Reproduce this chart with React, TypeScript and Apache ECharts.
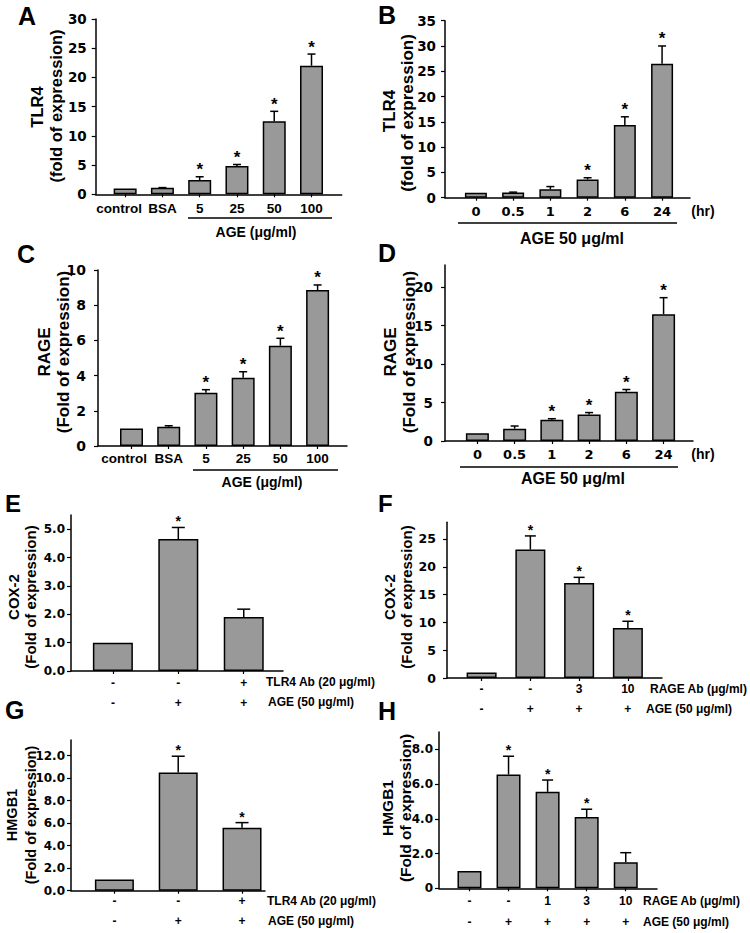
import React, { useEffect, useRef } from "react";
import * as echarts from "echarts";

// ---------- DATA ----------
// A: TLR4 vs AGE dose
const doseCats = ["control", "BSA", "5", "25", "50", "100"];
const tlr4Dose = [1.0, 1.1, 2.45, 4.85, 12.5, 22.0];
const tlr4DoseSem = [0, 0.05, 0.55, 0.25, 1.7, 2.0];
const tlr4DoseSig = [0, 0, 1, 1, 1, 1];
const tlr4DoseTicks = [0, 5, 10, 15, 20, 25, 30];

// B: TLR4 vs time
const timeCats = ["0", "0.5", "1", "2", "6", "24"];
const tlr4Time = [1.0, 1.05, 1.65, 3.6, 14.4, 26.5];
const tlr4TimeSem = [0, 0.05, 0.55, 0.35, 1.6, 3.5];
const tlr4TimeSig = [0, 0, 0, 1, 1, 1];
const tlr4TimeTicks = [0, 5, 10, 15, 20, 25, 30, 35];

// C: RAGE vs AGE dose
const rageDose = [1.0, 1.1, 3.03, 3.88, 5.7, 8.86];
const rageDoseSem = [0, 0.05, 0.17, 0.34, 0.42, 0.29];
const rageDoseSig = [0, 0, 1, 1, 1, 1];
const rageDoseTicks = [0, 2, 4, 6, 8, 10];

// D: RAGE vs time
const rageTime = [1.0, 1.6, 2.75, 3.45, 6.4, 16.5];
const rageTimeSem = [0, 0.35, 0.15, 0.25, 0.3, 2.15];
const rageTimeSig = [0, 0, 1, 1, 1, 1];
const rageTimeTicks = [0, 5, 10, 15, 20];

// E: COX-2 with TLR4 Ab
const tlr4AbRow = ["-", "-", "+"];
const ageRow3 = ["-", "+", "+"];
const cox2Tlr4 = [1.0, 4.65, 1.9];
const cox2Tlr4Sem = [0, 0.41, 0.28];
const cox2Tlr4Sig = [0, 1, 0];
const cox2Tlr4Ticks = [0, 1, 2, 3, 4, 5];

// F: COX-2 with RAGE Ab
const rageAbRow4 = ["-", "-", "3", "10"];
const ageRow4 = ["-", "+", "+", "+"];
const cox2Rage = [1.0, 23.1, 17.1, 9.0];
const cox2RageSem = [0, 2.45, 1.0, 1.2];
const cox2RageSig = [0, 1, 1, 1];
const cox2RageTicks = [0, 5, 10, 15, 20, 25];

// G: HMGB1 with TLR4 Ab
const hmgb1Tlr4 = [1.0, 10.5, 5.6];
const hmgb1Tlr4Sem = [0, 1.45, 0.45];
const hmgb1Tlr4Sig = [0, 1, 1];
const hmgb1Tlr4Ticks = [0, 2, 4, 6, 8, 10, 12];

// H: HMGB1 with RAGE Ab
const rageAbRow5 = ["-", "-", "1", "3", "10"];
const ageRow5 = ["-", "+", "+", "+", "+"];
const hmgb1Rage = [1.0, 6.55, 5.55, 4.1, 1.5];
const hmgb1RageSem = [0, 1.05, 0.68, 0.45, 0.55];
const hmgb1RageSig = [0, 1, 1, 1, 0];
const hmgb1RageTicks = [0, 2, 4, 6, 8];

// ---------- LAYOUT ----------
const FONT = "'Liberation Sans', Arial, Helvetica, sans-serif";
const WIDE = "'DejaVu Sans', Verdana, sans-serif";
const BAR_COLOR = "#999999";

const plain = (v: number) => String(v);
const oneDec = (v: number) => v.toFixed(1);
const oneDecZero = (v: number) => (v === 0 ? "0" : v.toFixed(1));
const twoRows = (a: string[], b: string[]) => a.map((s, i) => s + "\n" + b[i]);

type Panel = {
  vals: number[]; sem: number[]; sig: number[]; ticks: number[];
  xLabels: string[]; yFmt: (v: number) => string;
  left: number; top: number; width: number; height: number;
  xMin: number; xMax: number; yMax: number;
  barWidth: number; cap: number;
  yFont: number; yMargin: number;
  xFont: number; xFamily: string; xMargin: number; xLineHeight: number;
  firstShift: number; // label of first category sits a little left of its bar (axis units)
  starFont: number; starOff: number;
};

const panels: Panel[] = [
  { vals: tlr4Dose, sem: tlr4DoseSem, sig: tlr4DoseSig, ticks: tlr4DoseTicks, xLabels: doseCats, yFmt: plain,
    left: 95.7, top: 19, width: 246, height: 175.3, xMin: -0.79, xMax: 5.81, yMax: 30,
    barWidth: 23, cap: 8, yFont: 13.5, yMargin: 9, xFont: 13.5, xFamily: FONT, xMargin: 6, xLineHeight: 16, firstShift: 0.16,
    starFont: 17, starOff: 7 },
  { vals: tlr4Time, sem: tlr4TimeSem, sig: tlr4TimeSig, ticks: tlr4TimeTicks, xLabels: timeCats, yFmt: plain,
    left: 445, top: 20.7, width: 245, height: 177, xMin: -0.83, xMax: 5.75, yMax: 35,
    barWidth: 22, cap: 8, yFont: 13.5, yMargin: 9, xFont: 13, xFamily: WIDE, xMargin: 5, xLineHeight: 17, firstShift: 0,
    starFont: 17, starOff: 7 },
  { vals: rageDose, sem: rageDoseSem, sig: rageDoseSig, ticks: rageDoseTicks, xLabels: doseCats, yFmt: plain,
    left: 98, top: 270, width: 249, height: 176, xMin: -0.9, xMax: 5.79, yMax: 10,
    barWidth: 23, cap: 8, yFont: 14, yMargin: 12, xFont: 13.5, xFamily: FONT, xMargin: 4, xLineHeight: 16, firstShift: 0.2,
    starFont: 17, starOff: 7 },
  { vals: rageTime, sem: rageTimeSem, sig: rageTimeSig, ticks: rageTimeTicks, xLabels: timeCats, yFmt: plain,
    left: 445, top: 265, width: 248, height: 176, xMin: -0.87, xMax: 5.79, yMax: 22.9,
    barWidth: 23, cap: 8, yFont: 13.5, yMargin: 12, xFont: 13, xFamily: WIDE, xMargin: 5, xLineHeight: 17, firstShift: 0,
    starFont: 17, starOff: 7 },
  { vals: cox2Tlr4, sem: cox2Tlr4Sem, sig: cox2Tlr4Sig, ticks: cox2Tlr4Ticks, xLabels: twoRows(tlr4AbRow, ageRow3), yFmt: oneDec,
    left: 71, top: 515, width: 212, height: 156, xMin: -0.64, xMax: 2.6, yMax: 5.5,
    barWidth: 40, cap: 13, yFont: 12, yMargin: 6, xFont: 12, xFamily: FONT, xMargin: 1.5, xLineHeight: 20, firstShift: 0,
    starFont: 14, starOff: 6 },
  { vals: cox2Rage, sem: cox2RageSem, sig: cox2RageSig, ticks: cox2RageTicks, xLabels: twoRows(rageAbRow4, ageRow4), yFmt: plain,
    left: 447, top: 522.3, width: 215, height: 155.7, xMin: -0.71, xMax: 3.7, yMax: 28,
    barWidth: 30, cap: 11, yFont: 12.5, yMargin: 11, xFont: 12, xFamily: FONT, xMargin: 0.5, xLineHeight: 20, firstShift: 0,
    starFont: 14, starOff: 6 },
  { vals: hmgb1Tlr4, sem: hmgb1Tlr4Sem, sig: hmgb1Tlr4Sig, ticks: hmgb1Tlr4Ticks, xLabels: twoRows(tlr4AbRow, ageRow3), yFmt: oneDec,
    left: 71, top: 739.9, width: 194, height: 150.8, xMin: -0.68, xMax: 2.36, yMax: 13.4,
    barWidth: 39, cap: 13, yFont: 12, yMargin: 6, xFont: 12, xFamily: FONT, xMargin: 0.5, xLineHeight: 20, firstShift: 0,
    starFont: 14, starOff: 6 },
  { vals: hmgb1Rage, sem: hmgb1RageSem, sig: hmgb1RageSig, ticks: hmgb1RageTicks, xLabels: twoRows(rageAbRow5, ageRow5), yFmt: oneDecZero,
    left: 439, top: 731.9, width: 218, height: 156.4, xMin: -0.78, xMax: 4.8, yMax: 9,
    barWidth: 24, cap: 11, yFont: 12, yMargin: 6, xFont: 12, xFamily: FONT, xMargin: 2.5, xLineHeight: 21, firstShift: 0,
    starFont: 14, starOff: 6 },
];

type Txt = { t: string; x: number; y: number; size: number; align?: string; rot?: boolean };

const letters: Txt[] = [
  { t: "A", x: 18, y: 16, size: 25 }, { t: "B", x: 378, y: 15, size: 25 },
  { t: "C", x: 17, y: 253.5, size: 25 }, { t: "D", x: 378, y: 252.5, size: 25 },
  { t: "E", x: 5, y: 503.5, size: 24 }, { t: "F", x: 378, y: 503.5, size: 24 },
  { t: "G", x: 5, y: 709.5, size: 25 }, { t: "H", x: 378, y: 711, size: 25 },
];

const yNames: Txt[] = [
  { t: "TLR4", x: 37, y: 107, size: 16.5, rot: true },
  { t: "(fold of expression)", x: 56, y: 106, size: 16.5, rot: true },
  { t: "TLR4", x: 389.5, y: 111, size: 17, rot: true },
  { t: "(fold of expression)", x: 407.5, y: 113, size: 17, rot: true },
  { t: "RAGE", x: 44.5, y: 352, size: 17, rot: true },
  { t: "(Fold of expression)", x: 63, y: 352, size: 17, rot: true },
  { t: "RAGE", x: 390, y: 352, size: 17, rot: true },
  { t: "(Fold of expression)", x: 409, y: 352, size: 17, rot: true },
  { t: "COX-2", x: 13.5, y: 597, size: 15, rot: true },
  { t: "(Fold of expression)", x: 30.5, y: 597, size: 15, rot: true },
  { t: "COX-2", x: 389, y: 597, size: 15, rot: true },
  { t: "(Fold of expression)", x: 406.5, y: 597, size: 15, rot: true },
  { t: "HMGB1", x: 12, y: 815, size: 14.5, rot: true },
  { t: "(Fold of expression)", x: 30.5, y: 815, size: 14.5, rot: true },
  { t: "HMGB1", x: 387, y: 808, size: 15.5, rot: true },
  { t: "(Fold of expression)", x: 405.5, y: 808, size: 15.5, rot: true },
];

const notes: Txt[] = [
  { t: "AGE (μg/ml)", x: 256, y: 232, size: 14, align: "center" },
  { t: "AGE 50 μg/ml", x: 572, y: 238, size: 16, align: "center" },
  { t: "AGE (μg/ml)", x: 262, y: 482, size: 14, align: "center" },
  { t: "AGE 50 μg/ml", x: 573, y: 478, size: 16, align: "center" },
  { t: "(hr)", x: 703, y: 211, size: 14, align: "center" },
  { t: "(hr)", x: 703, y: 454, size: 14, align: "center" },
  { t: "TLR4 Ab (20 μg/ml)", x: 266, y: 682, size: 12 },
  { t: "AGE (50 μg/ml)", x: 268, y: 702, size: 12 },
  { t: "RAGE Ab (μg/ml)", x: 650, y: 689, size: 12 },
  { t: "AGE (50 μg/ml)", x: 646, y: 709, size: 12 },
  { t: "TLR4 Ab (20 μg/ml)", x: 267, y: 901, size: 12 },
  { t: "AGE (50 μg/ml)", x: 268, y: 921, size: 12 },
  { t: "RAGE Ab (μg/ml)", x: 643, y: 901, size: 12 },
  { t: "AGE (50 μg/ml)", x: 643, y: 922, size: 12 },
];

const underlines = [
  [188, 218, 332], [458, 223, 677], [193, 470, 338], [460, 467, 678],
];

function txtEl(d: Txt) {
  return {
    type: "text",
    x: d.x, y: d.y, rotation: d.rot ? Math.PI / 2 : 0,
    silent: true,
    style: {
      text: d.t, fill: "#000", fontSize: d.size, fontWeight: "bold", fontFamily: FONT,
      align: d.rot ? "center" : d.align || "left", textAlign: d.rot ? "center" : d.align || "left",
      verticalAlign: "middle", textVerticalAlign: "middle",
    },
  };
}

export default function App() {
  const ref = useRef<HTMLDivElement>(null);
  useEffect(() => {
    if (!ref.current) return;
    const chart = echarts.init(ref.current, undefined, { renderer: "svg" });
    const grid: any[] = [];
    const xAxis: any[] = [];
    const yAxis: any[] = [];
    const series: any[] = [];
    panels.forEach((p, i) => {
      const idx = p.vals.map((_, j) => j);
      const labelPos = idx.map((j) => (j === 0 ? -p.firstShift : j));
      grid.push({ left: p.left, top: p.top, width: p.width, height: p.height, containLabel: false });
      xAxis.push({
        type: "value", gridIndex: i, min: p.xMin, max: p.xMax,
        axisLine: { show: true, onZero: false, lineStyle: { color: "#000", width: 1.5 } },
        axisTick: { show: true, length: 3, customValues: idx, lineStyle: { color: "#000", width: 1.2 } },
        axisLabel: {
          show: true, customValues: labelPos, showMinLabel: true, showMaxLabel: true, hideOverlap: false,
          formatter: (v: number) => p.xLabels[Math.max(0, Math.round(v))] ?? "",
          color: "#000", fontWeight: "bold", fontSize: p.xFont, fontFamily: p.xFamily,
          margin: p.xMargin, lineHeight: p.xLineHeight,
        },
        splitLine: { show: false },
      });
      yAxis.push({
        type: "value", gridIndex: i, min: 0, max: p.yMax,
        axisLine: { show: true, onZero: false, lineStyle: { color: "#000", width: 1.5 } },
        axisTick: { show: true, length: 4, customValues: p.ticks, lineStyle: { color: "#000", width: 1.2 } },
        axisLabel: {
          show: true, customValues: p.ticks, showMinLabel: true, showMaxLabel: true,
          formatter: (v: number) => p.yFmt(v),
          color: "#000", fontWeight: "bold", fontSize: p.yFont, fontFamily: WIDE, margin: p.yMargin,
        },
        splitLine: { show: false },
      });
      series.push({
        type: "bar", xAxisIndex: i, yAxisIndex: i, barWidth: p.barWidth, silent: true,
        data: p.vals.map((v, j) => [j, v]),
        itemStyle: { color: BAR_COLOR, borderColor: "#000", borderWidth: 1.5 },
      });
      series.push({
        type: "custom", xAxisIndex: i, yAxisIndex: i, silent: true, clip: false, z: 5,
        data: p.vals.map((v, j) => [j, v, p.sem[j], p.sig[j]]),
        renderItem: (_params: any, api: any) => {
          const x = api.value(0), v = api.value(1), s = api.value(2), g = api.value(3);
          const base = api.coord([x, v]);
          const tip = api.coord([x, v + s]);
          const children: any[] = [];
          if (s > 0) {
            children.push({ type: "line", shape: { x1: base[0], y1: base[1], x2: tip[0], y2: tip[1] }, style: { stroke: "#000", lineWidth: 1.5 } });
            children.push({ type: "line", shape: { x1: tip[0] - p.cap / 2, y1: tip[1], x2: tip[0] + p.cap / 2, y2: tip[1] }, style: { stroke: "#000", lineWidth: 1.5 } });
          }
          if (g) {
            children.push({
              type: "text", x: tip[0], y: tip[1] - p.starOff,
              style: { text: "*", fill: "#000", fontSize: p.starFont, fontWeight: "bold", fontFamily: FONT,
                align: "center", textAlign: "center", verticalAlign: "middle", textVerticalAlign: "middle" },
            });
          }
          return { type: "group", children };
        },
      });
    });

    const graphic: any[] = [];
    letters.forEach((d) => graphic.push(txtEl(d)));
    yNames.forEach((d) => graphic.push(txtEl(d)));
    notes.forEach((d) => graphic.push(txtEl(d)));
    underlines.forEach(([x1, y, x2]) =>
      graphic.push({ type: "line", silent: true, shape: { x1, y1: y, x2, y2: y }, style: { stroke: "#000", lineWidth: 1.3 } })
    );

    chart.setOption({
      animation: false,
      backgroundColor: "#fff",
      grid, xAxis, yAxis, series, graphic,
    });
    return () => chart.dispose();
  }, []);
  return (
    <div
      ref={ref}
      style={{ position: "absolute", left: 0, top: 0, width: 750, height: 933, background: "#fff" }}
    />
  );
}
